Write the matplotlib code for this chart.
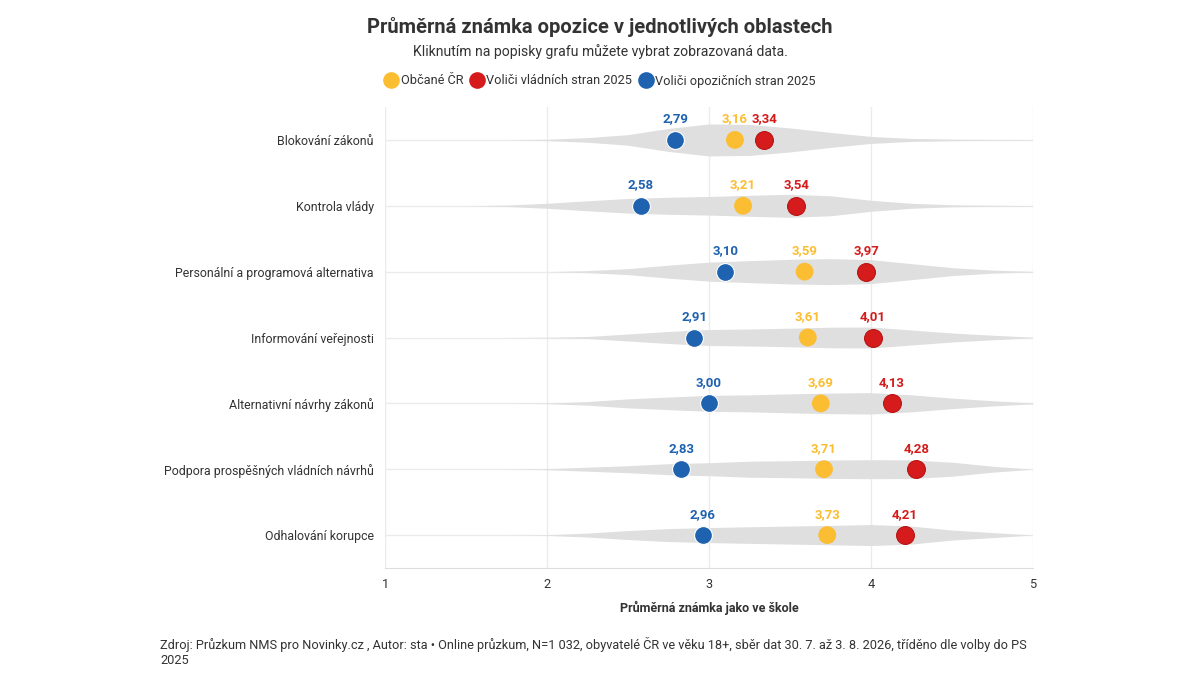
import matplotlib
matplotlib.use("Agg")
import matplotlib.pyplot as plt
from matplotlib.lines import Line2D
import numpy as np

plt.rcParams['font.family'] = ['Roboto', 'DejaVu Sans']

# ---------------- data ----------------
categories = [
    "Blokování zákonů",
    "Kontrola vlády",
    "Personální a programová alternativa",
    "Informování veřejnosti",
    "Alternativní návrhy zákonů",
    "Podpora prospěšných vládních návrhů",
    "Odhalování korupce",
]
series_names = ["Občané ČR", "Voliči vládních stran 2025", "Voliči opozičních stran 2025"]
obcane = [3.16, 3.21, 3.59, 3.61, 3.69, 3.71, 3.73]
vladni = [3.34, 3.54, 3.97, 4.01, 4.13, 4.28, 4.21]
opozicni = [2.79, 2.58, 3.10, 2.91, 3.00, 2.83, 2.96]

# distribution (violin) profiles, on this grade grid
density_grid = [1.5, 1.75, 2.0, 2.25, 2.5, 2.75, 3.0, 3.25, 3.5, 3.75, 4.0, 4.25, 4.5, 4.75, 5.0]
densities = [
    [0, 0, 0.7, 2.3, 5.3, 11.5, 16.0, 15.5, 12.0, 7.5, 3.5, 1.5, 0.8, 0.4, 0.2],
    [0, 0.7, 2.5, 5.0, 7.3, 8.5, 9.3, 10.5, 11.5, 10.0, 5.5, 2.5, 1.0, 0.5, 0.2],
    [0, 0, 0, 1.0, 3.0, 6.5, 9.5, 11.0, 12.3, 13.0, 12.0, 8.0, 4.0, 1.5, 0.3],
    [0, 0, 0.3, 1.0, 3.5, 6.0, 8.0, 8.5, 9.3, 10.3, 10.5, 7.5, 4.5, 2.3, 0.3],
    [0, 0, 0.3, 1.8, 4.5, 6.3, 8.0, 8.5, 9.5, 10.3, 10.7, 8.5, 5.3, 2.6, 0.5],
    [0, 0, 0.5, 2.0, 3.5, 5.5, 6.5, 8.0, 8.5, 9.2, 9.5, 9.3, 7.0, 3.0, 0],
    [0, 0, 0.3, 2.0, 4.5, 6.5, 7.5, 8.3, 9.0, 9.7, 10.5, 9.0, 5.0, 2.5, 0],
]

xticks = [1, 2, 3, 4, 5]
title = "Průměrná známka opozice v jednotlivých oblastech"
subtitle = "Kliknutím na popisky grafu můžete vybrat zobrazovaná data."
xlabel = "Průměrná známka jako ve škole"
footer = ("Zdroj: Průzkum NMS pro Novinky.cz , Autor: sta • Online průzkum, N=1 032, obyvatelé ČR ve věku 18+, "
          "sběr dat 30. 7. až 3. 8. 2026, tříděno dle volby do PS\n2025")

# ---------------- style ----------------
C_YEL = "#FBBE33"
C_RED = "#D51B1B"
C_BLU = "#1F62B0"
C_VIO = "#DFDFDF"
C_GRID = "#EBEBEB"
C_TXT = "#333333"

fig = plt.figure(figsize=(12, 6.75), dpi=100)
ax = fig.add_axes([385 / 1200, 1 - 568 / 675, (1033 - 385) / 1200, (568 - 107) / 675])

ypos = np.arange(len(categories))
px_per_unit = (568 - 107) / 7.0
scale = 1.0 / px_per_unit

for i, dens in enumerate(densities):
    d = np.array(dens) * scale
    ax.fill_between(density_grid, i - d, i + d, color=C_VIO, linewidth=0, zorder=2)

series = [(obcane, C_YEL, "none"), (vladni, C_RED, "#B81414"), (opozicni, C_BLU, "white")]
for vals, col, ec in series:
    ax.scatter(vals, ypos, s=165, color=col, edgecolors=ec, linewidths=0.8, zorder=4)
    for v, y in zip(vals, ypos):
        ax.annotate(f"{v:.2f}".replace(".", ","), (v, y), xytext=(0, 15),
                    textcoords="offset points", ha="center", va="center",
                    fontsize=9.5, fontweight="bold", color=col, zorder=5)

ax.set_xlim(1, 5)
ax.set_ylim(len(categories) - 0.5, -0.5)
ax.set_xticks(xticks)
ax.set_xticklabels([str(t) for t in xticks])
ax.set_yticks(ypos)
ax.set_yticklabels(categories)
ax.tick_params(axis="both", length=0, labelsize=9.2, colors=C_TXT)
ax.tick_params(axis="y", labelsize=8.9)
ax.tick_params(axis="x", pad=7)
ax.tick_params(axis="y", pad=8)
ax.grid(True, color=C_GRID, linewidth=1, zorder=0)
ax.set_axisbelow(True)
for s in ["top", "right", "left"]:
    ax.spines[s].set_visible(False)
ax.spines["bottom"].set_color("#DDDDDD")
ax.set_xlabel(xlabel, fontsize=9, fontweight="bold", color=C_TXT, labelpad=7)

fig.text(0.5, 1 - 27 / 675, title, ha="center", va="center", fontsize=14.5,
         fontweight="bold", color=C_TXT)
fig.text(0.5, 1 - 52 / 675, subtitle, ha="center", va="center", fontsize=10.1, color=C_TXT)

handles = [Line2D([], [], marker="o", linestyle="none", markersize=12, color=c, markeredgewidth=0)
           for c in (C_YEL, C_RED, C_BLU)]
leg = fig.legend(handles, series_names, loc="center", bbox_to_anchor=(0.5, 1 - 81 / 675),
                 ncol=3, frameon=False, fontsize=9.2, handletextpad=0.2,
                 columnspacing=0.5, handlelength=1.1)
for t in leg.get_texts():
    t.set_color(C_TXT)

fig.text(160 / 1200, 1 - 652 / 675, footer, ha="left", va="center", fontsize=9.2,
         color=C_TXT, linespacing=1.1)

fig.savefig("out.png", dpi=100, facecolor="white")
